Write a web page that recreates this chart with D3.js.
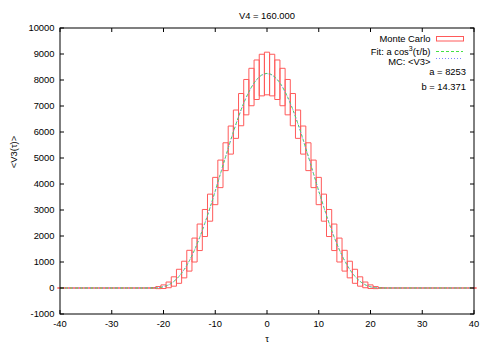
<!DOCTYPE html>
<html><head><meta charset="utf-8">
<script src="https://cdn.jsdelivr.net/npm/d3@7"></script>
<style>
body{margin:0;background:#fff;}
text{font-family:"Liberation Sans",Arial,sans-serif;font-size:9.4px;fill:#000;}
</style></head>
<body><svg id="c" width="491" height="343"></svg>
<script>
// ---- data ----
const tau = d3.range(-40, 41);
// MC mean <V3> per bin, |tau| 0..22 (symmetric), 0 beyond
const meanAbs = [8250, 8190, 8010, 7730, 7340, 6860, 6300, 5690, 5050, 4390, 3730, 3090, 2500, 1950, 1460, 1050, 710, 450, 250, 120, 50, 15, 2];
// half height of each Monte Carlo box per |tau|
const errAbs  = [820, 800, 760, 720, 680, 620, 545, 540, 535, 530, 525, 520, 520, 510, 460, 400, 320, 270, 180, 110, 70, 40, 15];
const xTicks = [-40, -30, -20, -10, 0, 10, 20, 30, 40];
const yTicks = [-1000, 0, 1000, 2000, 3000, 4000, 5000, 6000, 7000, 8000, 9000, 10000];
const fitA = 8253, fitB = 14.371;
const titleText = "V4 = 160.000";

const meanV = tau.map(t => Math.abs(t) < meanAbs.length ? meanAbs[Math.abs(t)] : 0);
const errV  = tau.map(t => Math.abs(t) < errAbs.length ? errAbs[Math.abs(t)] : 0);
const boxes = tau.map((t, i) => ({t, lo: meanV[i] - errV[i], hi: meanV[i] + errV[i]}));

const svg = d3.select("#c");
const L = 60, R = 474, T = 28, B = 314;
const x = d3.scaleLinear().domain([-40, 40]).range([L, R]);
const y = d3.scaleLinear().domain([-1000, 10000]).range([B, T]);

const boxCol = "#ff5a5a", fitCol = "#44e044", mcCol = "#7d86ff";

// boxes (drawn as paths so zero-height bins still show as a line)
const gb = svg.append("g");
gb.selectAll("path").data(boxes).enter().append("path")
  .attr("d", d => `M${x(d.t - 0.5)},${y(d.hi)}H${x(d.t + 0.5)}V${y(d.lo)}H${x(d.t - 0.5)}Z`)
  .attr("fill", "none").attr("stroke", boxCol).attr("stroke-width", 1);

// fit line
const fitF = t => Math.abs(t) < fitB * Math.PI / 2 ? fitA * Math.pow(Math.cos(t / fitB), 3) : 0;
const fx = d3.range(-40, 40.001, 0.2);
svg.append("path").datum(fx)
  .attr("d", d3.line().x(t => x(t)).y(t => y(fitF(t))))
  .attr("fill", "none").attr("stroke", fitCol).attr("stroke-width", 1).attr("stroke-dasharray", "3,2");
// MC mean line
svg.append("path").datum(tau.map((t, i) => [t, meanV[i]]))
  .attr("d", d3.line().x(d => x(d[0])).y(d => y(d[1])))
  .attr("fill", "none").attr("stroke", mcCol).attr("stroke-width", 1).attr("stroke-dasharray", "1,2");

// axes
const ax = svg.append("g");
ax.append("rect").attr("x", L).attr("y", T).attr("width", R - L).attr("height", B - T)
  .attr("fill", "none").attr("stroke", "#000").attr("stroke-width", 1);
const tl = 4;
xTicks.forEach(v => {
  ax.append("line").attr("x1", x(v)).attr("x2", x(v)).attr("y1", B).attr("y2", B - tl).attr("stroke", "#000");
  ax.append("line").attr("x1", x(v)).attr("x2", x(v)).attr("y1", T).attr("y2", T + tl).attr("stroke", "#000");
  ax.append("text").attr("x", x(v)).attr("y", 326.5).attr("text-anchor", "middle").text(v);
});
yTicks.forEach(v => {
  ax.append("line").attr("x1", L).attr("x2", L + tl).attr("y1", y(v)).attr("y2", y(v)).attr("stroke", "#000");
  ax.append("line").attr("x1", R).attr("x2", R - tl).attr("y1", y(v)).attr("y2", y(v)).attr("stroke", "#000");
  ax.append("text").attr("x", 54.5).attr("y", y(v) + 3.3).attr("text-anchor", "end").text(v);
});
svg.append("text").attr("x", 267).attr("y", 18.5).attr("text-anchor", "middle").text(titleText);
svg.append("text").attr("x", 267).attr("y", 342).attr("text-anchor", "middle").text("τ");
svg.append("text").attr("transform", "translate(16.5,152) rotate(-90)").attr("text-anchor", "middle").text("<V3(τ)>");

// legend
const lg = svg.append("g");
lg.append("text").attr("x", 430.5).attr("y", 42.3).attr("text-anchor", "end").text("Monte Carlo");
lg.append("rect").attr("x", 436.5).attr("y", 36.5).attr("width", 27).attr("height", 4.5)
  .attr("fill", "none").attr("stroke", boxCol);
const ft = lg.append("text").attr("x", 430.5).attr("y", 55).attr("text-anchor", "end");
ft.append("tspan").text("Fit: a cos");
ft.append("tspan").attr("dy", -4).style("font-size", "7px").text("3");
ft.append("tspan").attr("dy", 4).text("(τ/b)");
lg.append("line").attr("x1", 436).attr("x2", 463).attr("y1", 51.5).attr("y2", 51.5)
  .attr("stroke", fitCol).attr("stroke-dasharray", "3,2");
lg.append("text").attr("x", 430.5).attr("y", 64.8).attr("text-anchor", "end").text("MC: <V3>");
lg.append("line").attr("x1", 436).attr("x2", 463).attr("y1", 58.5).attr("y2", 58.5)
  .attr("stroke", mcCol).attr("stroke-dasharray", "1,2");
lg.append("text").attr("x", 466).attr("y", 75).attr("text-anchor", "end").text("a = " + fitA);
lg.append("text").attr("x", 466).attr("y", 90).attr("text-anchor", "end").text("b = " + fitB);
</script></body></html>
